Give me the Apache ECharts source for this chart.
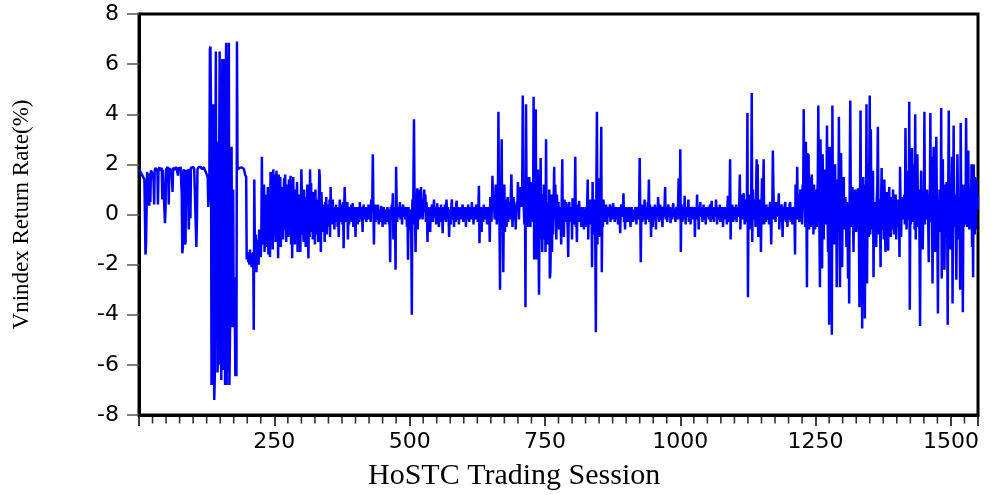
<!DOCTYPE html>
<html>
<head>
<meta charset="utf-8">
<title>Vnindex return rate</title>
<script src="https://cdn.jsdelivr.net/npm/echarts@6/dist/echarts.min.js"></script>
<style>
  html, body { margin: 0; padding: 0; background: #fff; }
  #chart { width: 993px; height: 495px; }
</style>
</head>
<body>
<div id="chart"></div>
<script>
// daily return of the Vnindex (%), one value per HoSTC session (1..1550)
var returns = [
  1.80,1.72,1.78,1.65,1.60,1.58,1.52,1.50,1.45,1.40,
  1.38,-1.60,-1.20,0.20,1.70,0.40,0.60,0.95,0.35,1.65,
  0.50,1.75,1.78,1.70,1.82,1.60,1.30,0.40,1.75,1.85,
  1.80,1.86,1.78,1.75,0.40,1.80,1.84,1.88,1.75,1.70,
  1.82,1.86,0.60,1.78,1.80,1.85,1.76,-0.35,0.20,1.80,
  1.86,1.82,1.90,1.78,0.40,1.84,1.80,1.88,1.85,1.76,
  1.82,0.90,1.86,1.80,1.88,1.84,1.78,1.90,1.85,1.80,
  1.86,1.55,1.88,1.82,1.80,1.86,1.90,1.84,0.80,-1.55,
  -1.30,1.70,1.80,1.86,-1.20,-1.10,1.78,1.82,0.40,1.80,
  1.75,-0.60,0.30,1.82,-0.15,1.86,1.80,1.88,1.84,1.90,
  1.85,1.82,1.88,1.80,1.86,-1.30,-0.20,1.80,1.85,1.90,
  1.88,1.84,1.86,1.90,1.88,1.82,1.78,1.86,1.84,1.88,
  1.80,1.76,1.72,1.68,1.60,1.55,1.50,0.30,0.35,1.20,
  6.60,6.70,4.20,-6.80,-6.20,1.50,4.40,-3.50,-7.40,-6.50,
  2.00,6.50,-5.00,2.90,-6.30,-5.60,-6.00,1.50,6.50,-2.50,
  -4.00,-6.60,3.00,6.20,-5.50,-6.20,6.20,4.50,-6.80,3.80,
  6.85,-6.80,6.30,-6.20,2.00,6.85,-6.80,-5.00,-3.00,1.00,
  2.70,-4.50,-1.50,1.00,-4.50,-2.50,-3.80,-6.45,-3.80,-6.45,
  6.90,
  1.80,1.85,1.78,1.82,1.86,1.80,1.84,1.85,1.88,1.82,1.90,1.86,1.80,1.70,1.60,1.55,1.50,
  -1.80,-1.60,-1.50,-1.90,-1.70,-2.00,-1.40,-1.75,-1.55,-2.10,-1.60,-1.85,-1.50,-4.60,
  1.40,-1.20,-1.80,-0.80,-2.30,-1.20,-1.60,-1.00,-2.00,-0.60,-1.50,-1.00,-1.70,-0.90,
  2.30,
  -1.20,0.60,-0.80,1.20,-1.50,-0.40,0.80,-1.30,0.20,-0.90,
  1.10,-1.60,0.50,-0.60,-1.70,1.70,1.60,-0.30,1.50,-1.40,
  1.80,0.40,-0.80,1.60,-1.10,0.20,1.75,-0.50,0.90,-1.75,
  1.60,0.30,-1.30,
  1.50,-1.30,0.80,-0.40,1.10,-1.00,0.30,1.45,-0.60,1.60,
  0.20,-1.10,1.20,-0.30,0.60,-0.90,1.40,-0.50,0.10,1.55,
  -1.20,0.70,-1.75,0.40,1.50,-0.80,0.30,-1.20,1.00,-0.60,
  0.50,1.30,-1.50,0.20,-0.90,0.80,-0.40,-1.50,0.60,1.80,
  1.75,-0.80,0.40,-1.10,1.00,-0.50,0.20,-1.30,0.70,-0.60,
  1.20,-0.30,-1.75,0.50,-0.90,1.80,0.30,1.25,-0.70,0.50,
  -1.00,0.90,-0.20,0.40,-1.20,1.00,-0.50,0.30,-0.80,0.60,
  -1.10,0.20,1.80,1.50,-0.40,-1.50,0.90,0.10,-0.70,0.40,
  -0.60,0.30,-1.10,0.50,-0.20,0.70,-0.80,0.10,-0.30,0.40,
  -0.50,0.60,-0.90,1.10,-0.10,0.20,-0.40,0.60,-0.20,0.30,
  -0.60,0.10,-0.30,0.40,-0.10,0.20,-0.50,0.30,-0.90,0.10,
  0.60,-0.30,0.40,-0.20,0.20,-0.40,0.50,-1.35,0.20,1.10,
  0.20,-0.30,0.40,-0.10,0.50,-1.00,0.20,-0.40,0.30,0.10,
  -0.20,0.40,-0.30,0.20,0.45,-0.50,0.10,-0.20,0.30,-0.90,
  0.20,-0.10,0.30,-0.40,0.10,0.20,-0.30,0.50,-0.10,0.20,
  -0.20,0.30,-0.70,0.10,0.40,-0.20,0.20,-0.10,0.30,-0.30,
  0.10,0.20,-0.20,0.40,-0.10,0.30,0.20,-0.30,0.60,0.30,
  0.50,2.40,0.30,-1.20,0.20,0.40,-0.30,0.10,0.30,-0.20,
  0.40,0.10,-0.40,0.20,0.05,-0.30,0.35,-0.10,0.20,-0.50,
  0.10,0.30,-0.20,0.15,-0.40,0.20,0.10,-0.30,0.30,-0.10,
  0.20,-0.40,0.10,-1.90,0.30,-0.20,0.40,0.10,0.85,-1.00,
  0.20,0.30,-0.30,-2.20,1.90,0.40,-0.30,0.20,-0.10,0.30,
  0.10,0.50,-0.20,0.30,0.10,-0.40,0.20,0.40,-0.10,0.30,
  0.20,-0.20,0.10,0.30,-0.50,0.20,-1.80,0.30,-0.40,0.10,
  0.20,-0.50,-0.80,-4.00,0.60,-0.40,1.20,3.80,0.80,-0.30,
  -1.50,0.60,0.30,1.05,-0.60,0.40,1.00,-0.20,
  0.50,-0.15,1.10,0.30,0.60,-0.20,0.40,0.20,1.00,0.10,
  0.80,-0.30,0.50,0.20,-1.10,0.30,-0.40,0.20,0.10,-0.70,
  0.30,-0.20,0.40,0.10,-0.30,0.20,0.60,-0.10,0.30,0.20,
  -0.40,0.10,0.45,-0.20,0.30,-0.50,0.10,0.20,-0.30,0.40,
  -0.10,0.20,
  -0.75,0.30,0.10,-0.20,0.40,0.10,-0.30,0.60,0.20,-0.10,
  0.30,-0.20,-0.90,0.20,0.10,-0.40,0.30,0.60,-0.20,0.10,
  0.30,-0.50,0.20,0.10,-0.30,0.40,0.55,-0.20,0.10,0.30,
  -0.40,0.20,0.10,-0.20,0.30,-0.10,0.20,0.40,-0.30,0.10,
  0.20,-0.10,0.30,-0.50,0.10,0.20,-0.20,0.40,0.10,-0.30,
  0.20,0.30,-0.20,0.10,0.50,-0.10,0.20,-0.40,0.30,0.10,
  -0.20,0.20,0.40,-0.10,0.30,-0.30,0.20,1.15,-1.15,0.20,
  -0.10,0.30,-0.70,0.20,0.10,-0.30,0.40,-0.20,0.10,0.30,
  -0.20,0.20,-0.40,0.30,0.10,-0.10,0.20,-1.10,0.70,0.20,
  -0.30,0.40,1.55,0.30,0.80,0.40,-0.20,0.60,1.20,0.50,
  -0.40,0.50,0.30,4.10,0.50,-0.40,-3.00,1.00,0.60,3.00,
  -0.60,0.40,-2.30,0.40,1.20,-0.70,0.30,0.60,-0.50,0.20,
  0.70,-0.30,0.10,0.50,-0.20,0.30,0.80,1.60,0.40,-0.50,
  0.20,0.70,-0.20,0.40,0.10,-0.60,0.30,0.50,0.20,1.30,
  0.60,-0.20,0.90,0.40,1.10,0.70,0.30,1.20,4.75,1.00,
  0.20,-0.40,0.80,-3.70,4.40,0.60,1.50,-0.50,0.80,-0.10,
  1.50,0.30,-0.50,0.90,1.30,0.20,0.60,-0.30,4.70,-1.80,
  0.50,-0.60,4.20,-1.80,0.40,-1.20,1.80,-0.80,-3.20,0.30,
  -0.90,2.25,-1.00,0.40,-1.50,0.80,-0.40,1.20,-1.00,0.60,
  -1.50,3.00,-0.60,0.50,-1.20,0.20,-0.40,1.00,-2.55,-2.30,
  -0.60,0.80,-1.50,0.40,-0.80,0.50,1.90,-0.20,1.20,0.30,
  -1.00,0.80,
  0.80,-0.20,0.50,-0.60,0.30,0.10,-0.40,-1.20,0.60,2.20,
  -0.50,0.30,-0.90,0.60,0.20,-0.30,0.50,-0.20,0.10,-0.60,
  -1.70,0.40,0.50,-0.30,0.20,-0.10,0.30,-1.00,0.65,0.10,
  -0.40,0.20,0.30,2.30,-0.50,0.20,-1.10,0.40,
  0.10,-0.30,0.55,0.20,-0.20,0.30,-0.50,0.10,0.20,-0.40,
  0.30,-0.60,0.20,0.10,-0.50,0.30,-0.20,0.40,1.40,-1.00,
  0.30,-0.40,0.20,0.60,-0.30,0.50,-2.10,1.30,-0.80,0.40,
  -0.50,0.60,-1.20,-4.70,1.20,4.10,-1.20,0.60,1.45,-0.90,
  0.80,-0.60,1.10,3.50,-2.30,0.40,-0.50,0.60,0.20,-0.30,
  0.30,-0.20,0.40,0.10,-0.40,0.20,0.30,-0.10,0.20,0.40,
  -0.30,0.10,0.20,-0.20,0.30,0.45,-0.10,0.20,-0.30,0.10,
  0.30,-0.20,0.10,0.20,-0.40,0.30,0.10,-0.20,-0.75,0.20,
  0.40,-0.10,0.30,0.20,0.85,-0.30,0.10,-0.60,0.20,0.30,
  -0.10,0.20,-0.30,0.10,0.30,-0.20,0.20,-0.50,0.10,0.30,
  -0.10,0.20,-0.30,0.20,0.10,-0.20,0.30,0.10,-0.40,0.20,
  0.10,0.30,-0.20,0.40,2.25,0.30,-1.90,0.20,0.40,-0.30,
  0.10,0.30,-0.20,0.60,0.20,-0.40,0.10,0.30,-0.20,0.50,
  0.20,1.40,-0.30,0.40,0.10,-0.90,0.30,0.20,-0.50,0.10,
  0.30,-0.20,0.40,0.10,-0.60,0.20,0.30,-0.10,0.70,0.20,
  -0.30,0.10,0.40,-0.20,0.30,0.10,-0.50,0.20,0.30,-0.10,
  0.40,1.10,-0.20,0.30,0.10,-0.30,0.20,0.40,-0.10,0.20,
  0.30,-0.35,0.10,0.20,-0.20,0.30,0.45,-0.10,0.20,0.10,
  -0.30,0.20,0.30,-0.20,0.10,0.50,1.45,0.30,-0.20,2.60,
  -1.50,0.40,0.20,-0.30,0.10,0.30,-0.20,0.75,0.10,-0.40,
  0.20,0.30,-0.10,0.20,0.60,-0.30,0.10,0.20,-0.40,0.30,
  0.10,-0.20,0.30,0.20,-0.10,0.30,-0.90,0.20,0.10,-0.20,
  0.80,-0.20,0.30,-0.60,0.10,0.20,0.50,-0.10,0.30,0.20,
  -0.30,0.10,0.40,-0.20,0.20,0.10,-0.40,0.30,0.20,-0.10,
  0.10,0.30,-0.20,0.20,0.40,-0.30,0.10,0.55,-0.20,0.20,
  0.10,-0.30,0.30,0.20,-0.10,0.60,0.10,-0.40,0.20,0.30,
  -0.20,0.10,0.40,-0.30,0.20,0.10,-0.20,0.30,-0.50,0.20,
  0.10,0.30,-0.20,0.20,0.10,-0.40,0.30,0.75,0.20,-0.30,
  0.40,2.20,-1.00,0.30,-0.20,0.40,0.10,-0.30,0.20,0.30,
  -0.20,0.10,0.40,-0.30,0.20,0.30,-0.10,0.20,0.50,1.60,
  -0.60,0.30,0.10,0.80,-0.20,0.50,0.85,0.30,-0.40,0.20,
  0.60,-0.30,0.20,4.05,-3.30,0.50,0.80,-0.60,0.30,0.40,
  0.50,4.85,-1.10,1.00,0.30,-0.20,0.60,0.40,-0.50,0.80,
  2.20,-0.30,2.00,-0.90,0.50,0.40,-0.20,0.60,-1.50,0.30,
  1.45,-0.40,0.80,2.20,-0.40,0.30,0.10,-0.30,0.40,0.20,
  -0.20,0.30,0.10,-0.40,0.30,0.50,-0.20,-1.20,0.40,0.10,
  2.55,1.10,-0.20,0.40,0.20,-0.30,0.50,0.30,-0.10,0.20,
  0.30,0.85,-0.60,0.20,0.10,-0.30,0.40,0.20,-0.90,0.30,
  0.10,-0.20,0.40,0.50,-0.30,0.20,0.10,-0.50,0.30,0.20,
  -0.20,0.40,0.50,-0.30,0.10,0.20,-0.40,0.30,0.20,0.10,
  -0.20,-1.60,1.20,0.40,0.10,1.90,-0.20,0.50,0.80,-0.30,
  0.60,1.00,0.20,0.80,-0.40,1.20,0.50,4.20,1.20,0.30,
  -0.50,2.90,0.40,-2.90,2.45,0.60,2.40,-0.60,1.50,0.20,
  -0.50,0.80,1.60,-0.30,0.90,-0.80,1.20,0.40,-0.60,1.00,
  0.30,-0.50,0.80,1.30,4.35,0.60,-0.40,-2.90,3.00,0.50,
  -0.80,-2.15,2.40,0.30,-1.00,1.80,0.60,-0.40,1.20,0.20,
  3.55,0.20,-1.50,2.00,-4.40,2.70,-2.00,0.50,-0.30,-4.80,
  4.35,0.40,1.00,-1.20,0.60,2.00,-0.80,1.40,-2.90,0.50,
  1.00,-0.50,3.90,0.40,-2.90,0.60,2.45,0.30,-2.10,0.80,
  0.20,1.50,-0.60,0.40,0.70,0.10,-1.30,0.50,-0.40,-2.55,
  0.30,-3.55,1.20,4.55,0.60,-0.50,0.30,1.10,0.20,-1.50,
  0.40,-0.30,1.00,0.20,-0.70,0.50,0.10,1.05,0.30,-0.70,
  -3.70,0.80,4.15,-2.00,0.60,-4.55,0.40,1.50,-2.80,0.90,
  -4.15,1.20,-0.50,4.40,-2.75,0.80,2.00,-0.90,1.30,4.75,
  -0.80,3.40,0.20,-0.60,0.90,1.75,-2.50,0.40,-0.60,0.50,
  0.10,-1.30,0.60,1.20,3.50,0.30,-0.80,0.60,0.20,-2.10,0.50,1.85,
  -0.60,0.80,0.30,-1.00,1.40,0.20,-1.50,0.60,-0.30,0.90,
  0.10,-1.45,0.50,1.10,-0.40,0.30,-0.90,0.70,0.20,-0.60,
  1.00,0.30,-0.80,0.50,-0.20,0.80,-1.00,0.40,0.10,-0.50,
  0.60,0.20,-1.70,1.90,0.30,-0.90,0.50,-0.20,0.70,0.10,-0.20,
  0.80,-0.40,3.45,0.50,-0.60,0.30,1.75,-0.20,0.10,4.50,
  -3.80,0.60,-0.40,1.20,2.65,0.40,-0.30,0.80,2.00,-0.60,
  4.00,-1.00,0.50,1.30,2.40,0.20,-0.50,1.00,-1.20,-4.45,
  0.40,1.75,-0.30,0.60,-1.40,0.90,0.20,4.10,-0.40,1.00,
  -0.20,0.50,1.00,0.30,-0.20,-1.90,0.80,0.20,4.05,-0.30,
  2.30,0.40,-2.75,0.60,2.70,-0.40,0.90,-1.50,0.50,3.10,
  0.30,-0.80,-3.95,0.60,-0.20,1.00,0.40,-0.70,4.25,-2.55,
  0.70,2.20,-0.60,0.40,-2.20,0.30,1.20,-0.50,1.30,0.20,
  -4.40,0.80,4.15,-0.30,0.60,-1.40,0.50,0.90,2.30,-3.55,
  0.40,3.55,-0.50,0.80,0.70,-0.60,-2.60,0.30,2.40,0.50,
  -0.30,-1.00,0.60,-3.00,3.65,0.40,-0.90,1.20,-3.90,0.60,
  -0.50,0.50,1.20,-0.40,3.85,0.70,-0.50,0.90,2.55,0.30,
  -0.60,1.00,0.10,-0.40,2.00,-1.30,0.50,-2.50,2.00,0.60,
  -0.80,1.50,-0.60,1.40,0.60,0.20,0.70
];

// small tick marks under the x axis, every 25 sessions
var minorTickSessions = [
  25,50,75,100,125,150,175,200,225,275,300,325,350,375,400,425,450,475,
  525,550,575,600,625,650,675,700,725,775,800,825,850,875,900,925,950,975,
  1025,1050,1075,1100,1125,1150,1175,1200,1225,1275,1300,1325,1350,1375,1400,1425,1450,1475,
  1525
];

var xTitle = 'HoSTC Trading Session';
var yTitle = 'Vnindex Return Rate(%)';
var xMax = 1550, xMajor = 250;
var yMin = -8, yMax = 8, yStep = 2;

var chart = echarts.init(document.getElementById('chart'));

// session number is the position in the list
var points = returns.map(function (v, i) { return [i + 1, v]; });
var minorTicks = minorTickSessions.map(function (s) { return [s, yMin]; });

chart.setOption({
  animation: false,
  title: {
    text: xTitle,
    left: 368,
    top: 461,
    padding: 0,
    textStyle: { fontFamily: 'Liberation Serif', fontSize: 30, fontWeight: 'normal', color: '#000' }
  },
  grid: { left: 139, right: 15, top: 14, bottom: 80, show: true, borderColor: '#000', borderWidth: 3 },
  xAxis: {
    type: 'value',
    min: 0, max: xMax, interval: xMajor,
    axisLine: { show: true, onZero: false, lineStyle: { color: '#000', width: 3 } },
    axisTick: { show: true, length: 11, lineStyle: { color: '#000', width: 1.5 } },
    axisLabel: {
      margin: 16,
      fontFamily: 'DejaVu Sans', fontSize: 22, color: '#000',
      formatter: function (v) { return (v === 0 || v === xMax) ? '' : String(v); }
    },
    splitLine: { show: false }
  },
  yAxis: {
    type: 'value',
    min: yMin, max: yMax, interval: yStep,
    name: yTitle,
    nameLocation: 'middle',
    nameRotate: 90,
    nameGap: 106,
    nameTextStyle: { fontFamily: 'Liberation Serif', fontSize: 23, color: '#000' },
    axisLine: { show: true, onZero: false, lineStyle: { color: '#000', width: 3 } },
    axisTick: { show: true, length: 12, lineStyle: { color: '#555', width: 1.5 } },
    axisLabel: { margin: 20, fontFamily: 'DejaVu Sans', fontSize: 22, color: '#000' },
    splitLine: { show: false }
  },
  series: [
    {
      type: 'line',
      data: points,
      showSymbol: false,
      lineStyle: { color: '#0000ff', width: 2.5 }
    },
    {
      // minor axis ticks
      type: 'scatter',
      data: minorTicks,
      symbol: 'rect',
      symbolSize: [1.6, 9],
      symbolOffset: [0, 4],
      clip: false,
      silent: true,
      z: 5,
      itemStyle: { color: '#000' }
    }
  ]
});
</script>
</body>
</html>
